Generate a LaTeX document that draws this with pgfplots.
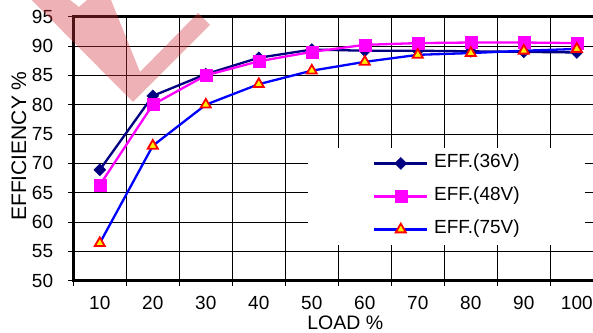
\documentclass[border=0pt]{standalone}
\usepackage{pgfplots}
\pgfplotsset{compat=1.18}
\usepackage{fontspec}
\setmainfont{Liberation Sans}
\definecolor{navy}{RGB}{0,0,128}
\definecolor{mag}{RGB}{255,0,255}
\definecolor{wm}{RGB}{210,50,60}
\begin{document}
\begin{tikzpicture}
\begin{axis}[
  name=ax,
  scale only axis, width=530bp, height=264bp,
  xmin=0.5, xmax=10.5, ymin=50, ymax=95,
  xtick={1,2,3,4,5,6,7,8,9,10},
  xticklabels={10,20,30,40,50,60,70,80,90,100},
  major x tick style={draw=none},
  minor xtick={0.5,1.5,2.5,3.5,4.5,5.5,6.5,7.5,8.5,9.5,10.5},
  xminorgrids,
  ytick={50,55,60,65,70,75,80,85,90,95},
  ymajorgrids,
  grid style={black, line width=0.9bp},
  minor grid style={black, line width=0.9bp},
  tick align=outside, tick pos=left,
  major tick length=5bp, minor tick length=5bp,
  tick style={black, line width=0.9bp},
  minor tick style={black, line width=0.9bp},
  axis line style={line width=2.5bp},
  /pgf/number format/assume math mode=true,
  ticklabel style={font=\fontsize{19bp}{22bp}\selectfont},
  xticklabel style={inner sep=0pt, anchor=north, yshift=-10.5bp},
  yticklabel style={inner sep=0pt, anchor=east, xshift=-15bp},
  xlabel={LOAD \%},
  xlabel style={font=\fontsize{19.5bp}{24bp}\selectfont, inner sep=0pt, at={(axis description cs:0.513,-0.16)}, anchor=center},
  ylabel={EFFICIENCY \%},
  ylabel style={font=\fontsize{21bp}{24bp}\selectfont, at={(axis description cs:-0.1025,0.51)}, anchor=center},
  legend style={at={(rel axis cs:0.704,0.319)}, anchor=center, draw=none, fill=white,
    inner xsep=65bp, inner ysep=6bp, font=\fontsize{19bp}{22bp}\selectfont,
    row sep=14bp, column sep=5.7bp,
    nodes={inner sep=0pt, text height=14bp, text depth=5bp}},
  legend cell align=left,
  legend image code/.code={\draw[mark repeat=2,mark phase=2,#1] plot coordinates {(0bp,0bp) (26.5bp,0bp) (53bp,0bp)};},
]
\addplot[navy, line width=2.3bp, mark=square*, mark size=4.2bp,
  mark options={rotate=45, fill=navy, draw=navy, line width=0.5bp}]
  coordinates {(1,68.9) (2,81.5) (3,85.2) (4,88.0) (5,89.4) (6,89.2) (7,89.2) (8,89.1) (9,89.0) (10,88.9)};
\addplot[mag, line width=2.3bp, mark=square*, mark size=6bp,
  mark options={fill=mag, draw=mag, line width=0.5bp}]
  coordinates {(1,66.3) (2,80.0) (3,85.0) (4,87.4) (5,89.0) (6,90.2) (7,90.5) (8,90.6) (9,90.6) (10,90.5)};
\addplot[blue, line width=2.3bp, mark=triangle*, mark size=5.8bp,
  mark options={fill=yellow, draw=red, line width=1.8bp}]
  coordinates {(1,56.4) (2,73.0) (3,80.0) (4,83.5) (5,85.8) (6,87.3) (7,88.5) (8,88.8) (9,89.2) (10,89.5)};
\legend{EFF.(36V),EFF.(48V),EFF.(75V)}
\end{axis}
\begin{scope}[shift={(ax.south west)}, x=1bp, y=1bp]
\fill[wm, opacity=0.38] (-41.6,280.7) -- (59.7,178.7) -- (136.7,255.7) -- (124.7,267.7) -- (66.7,208.7) -- (37.7,280.7) -- (13.7,280.7) -- (5.7,273.7) -- (-3.3,280.7) -- cycle;
\end{scope}
\pgfresetboundingbox
\path[use as bounding box] ([shift={(-73.3bp,-52.3bp)}]ax.south west) rectangle ([shift={(519.7bp,16.7bp)}]ax.north west);
\end{tikzpicture}
\end{document}
